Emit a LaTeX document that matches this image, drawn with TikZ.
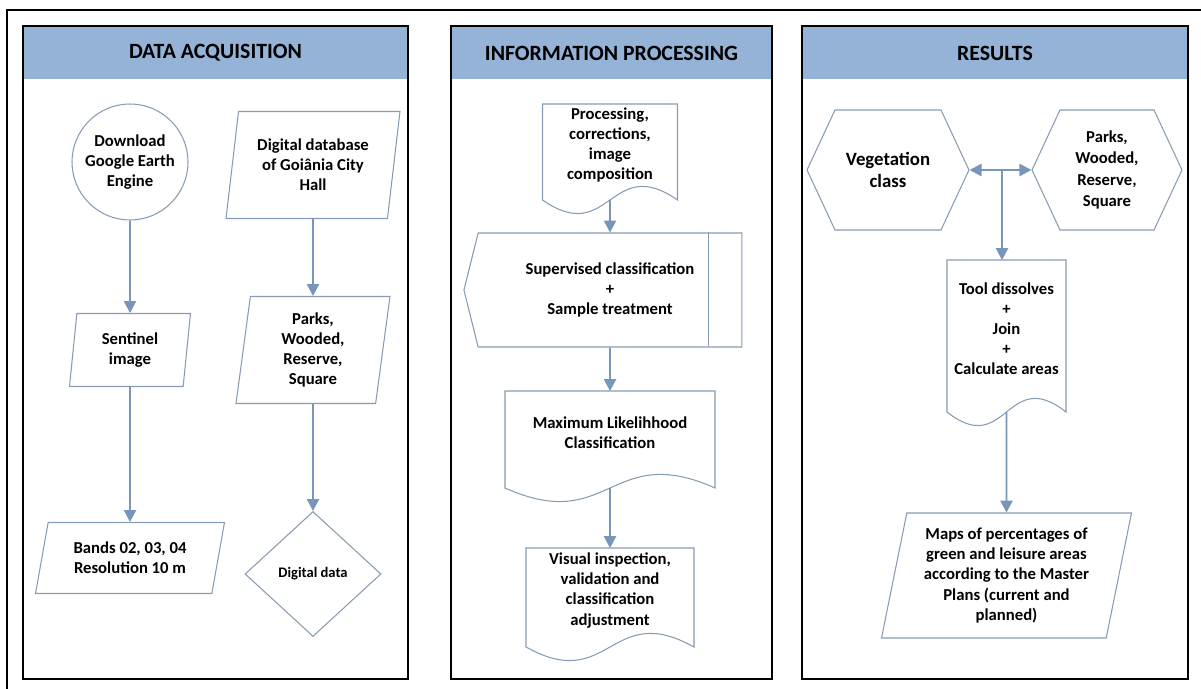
\documentclass[tikz,border=0pt]{standalone}
\usepackage{fontspec}
\setmainfont{Carlito}
\usetikzlibrary{arrows.meta,positioning,calc,shapes.geometric,shapes.symbols}
\definecolor{hdrc}{RGB}{149,179,215}
\definecolor{shpc}{RGB}{135,155,180}
\definecolor{arc}{RGB}{120,150,185}
% document symbol: straight top and sides, wavy bottom 14 units below the node
\newcommand{\docline}[1]{%
  \draw[shp] (#1.north west) -- ($(#1.south west)+(0,14)$)
    .. controls ($(#1.south)+(0,61)$) and ($(#1.south)+(0,-33)$) .. ($(#1.south east)+(0,14)$)
    -- (#1.north east) -- cycle;
  \coordinate (#1-b) at ($(#1.south)+(0,14)$);}

\begin{document}
\begin{tikzpicture}[x=0.02cm,y=-0.02cm,
  txt/.style={font=\bfseries\fontsize{9.5}{11.4}\selectfont,align=center,inner sep=2pt},
  shp/.style={draw=shpc,line width=0.6pt},
  box/.style={txt,shp},
  pgram/.code={\pgfmathsetmacro\pgramra{180-#1}%
    \pgfkeysalso{box,trapezium,trapezium left angle=#1,trapezium right angle=\pgramra,trapezium stretches body}},
  hexa/.style={box,signal,signal to=west and east,signal pointer angle=130},
  doc/.style={txt,outer sep=0pt},
  hdr/.style={font=\bfseries\fontsize{12.4}{14}\selectfont,inner sep=0pt},
  panel/.style={draw=black,line width=1.6pt},
  frame/.style={draw=black,line width=1.2pt},
  ar/.style={draw=arc,line width=0.9pt,-{Triangle[length=6.8pt,width=7pt]}}]
\useasboundingbox (0,0) rectangle (1201,689);
\draw[frame] (1201,10) -- (7,10) -- (7,689);
\foreach \xa/\xb/\ttl/\nm in {23/408/DATA ACQUISITION/hA,451/772/INFORMATION PROCESSING/hB,802/1188/RESULTS/hC}{
  \fill[hdrc] (\xa,26) rectangle (\xb,79);
  \node[hdr] (\nm) at ({(\xa+\xb)/2},53) {\ttl};
  \draw[panel] (\xa,26) rectangle (\xb,679);
}
% data acquisition
\node[box,circle,minimum size=2.32cm] (dl) at (130,162) {Download\\Google Earth\\Engine};
\node[pgram=78,minimum width=3.48cm,minimum height=2.14cm] (db) at (313,165) {Digital database\\of Goiânia City\\Hall};
\node[pgram=80,minimum width=2.42cm,minimum height=1.46cm] (sen) at (130,350) {Sentinel\\image};
\node[pgram=72,minimum width=3.78cm,minimum height=1.42cm] (bnd) at (130,558) {Bands 02, 03, 04\\Resolution 10 m};
\node[pgram=80,minimum width=3.08cm,minimum height=2.14cm] (pk1) at (313,350) {Parks,\\Wooded,\\Reserve,\\Square};
\node[box,diamond,minimum width=2.72cm,minimum height=2.5cm,font=\bfseries\fontsize{8.3}{10}\selectfont] (dd) at (313,574) {Digital data};
\draw[ar] (dl) -- (sen); \draw[ar] (sen) -- (bnd);
\draw[ar] (db) -- (pk1); \draw[ar] (pk1) -- (dd);
% information processing
\node[doc,minimum width=2.7cm,minimum height=1.64cm] (pc) at (610,145) {Processing,\\corrections,\\image\\composition};
\docline{pc}
\node[box,signal,signal to=west,signal pointer angle=152,minimum width=5.56cm,minimum height=2.28cm] (sup) at (610,290) {Supervised classification\\+\\Sample treatment};
\draw[shp] ($(sup.north east)+(-34,0)$) -- ($(sup.south east)+(-34,0)$);
\node[doc,minimum width=4.2cm,minimum height=1.66cm] (ml) at (610,432.5) {Maximum Likelihhood\\Classification};
\docline{ml}
\node[doc,minimum width=3.36cm,minimum height=1.7cm] (vi) at (610,590.5) {Visual inspection,\\validation and\\classification\\adjustment};
\docline{vi}
\draw[ar] (pc-b) -- (sup); \draw[ar] (sup) -- (ml); \draw[ar] (ml-b) -- (vi);
% results
\node[hexa,minimum width=3.24cm,minimum height=2.4cm,font=\bfseries\fontsize{10.7}{13}\selectfont] (veg) at (888,170) {Vegetation\\class};
\node[hexa,minimum width=3.0cm,minimum height=2.4cm,font=\bfseries\fontsize{9.5}{12.2}\selectfont] (pk2) at (1107,170) {Parks,\\Wooded,\\Reserve,\\Square};
\coordinate (jn) at (1002,170);
\node[doc,minimum width=2.38cm,minimum height=2.76cm] (tool) at (1006.5,329) {Tool dissolves\\+\\Join\\+\\Calculate areas};
\docline{tool}
\node[pgram=76,minimum width=5.0cm,minimum height=2.5cm] (maps) at (1006.5,575.5) {Maps of percentages of\\green and leisure areas\\according to the Master\\Plans (current and\\planned)};
\draw[ar] (jn) -- (veg); \draw[ar] (jn) -- (pk2);
\draw[ar] (jn) -- (jn |- tool.north);
\draw[ar] (tool-b) -- (maps);
\end{tikzpicture}
\end{document}
